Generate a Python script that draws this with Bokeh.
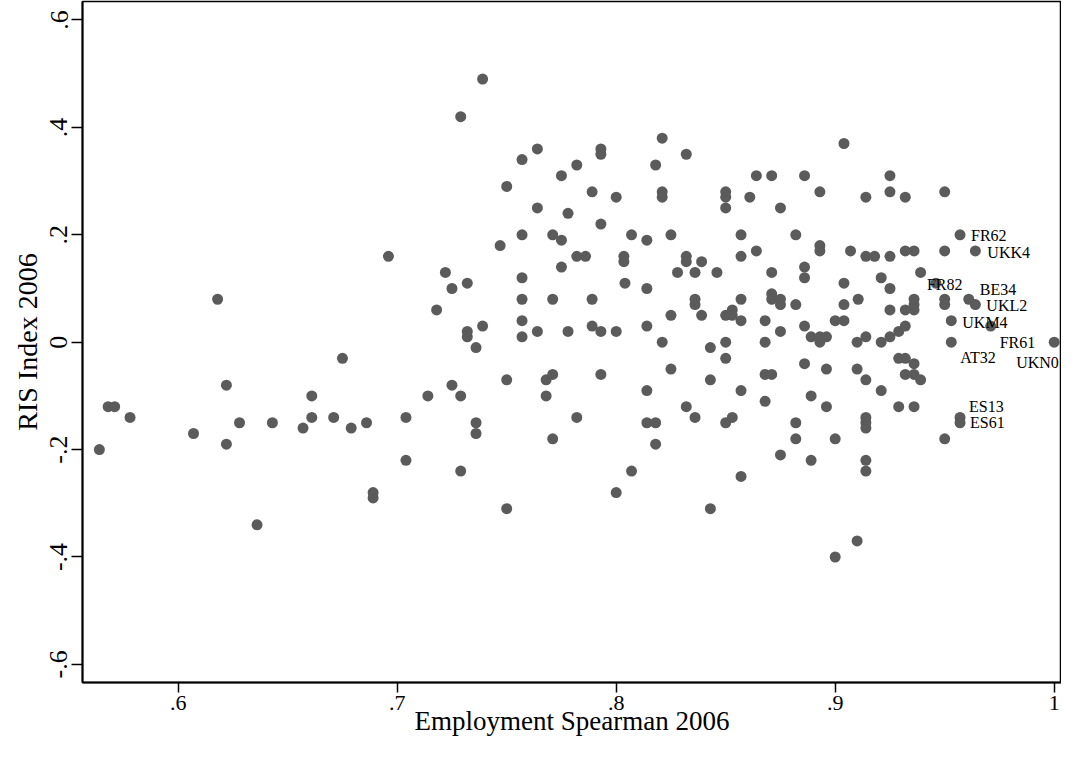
from bokeh.plotting import figure
from bokeh.models import ColumnDataSource, FixedTicker, Range1d
from bokeh.embed import file_html
from bokeh.resources import INLINE
from bokeh.core.properties import value

# ---- data ----
spearman = [
    0.564, 0.568, 0.571, 0.578, 0.607, 0.618, 0.622, 0.622, 0.628, 0.636,
    0.643, 0.657, 0.661, 0.661, 0.671, 0.675, 0.679, 0.686, 0.689, 0.689,
    0.696, 0.704, 0.704, 0.714, 0.718, 0.722, 0.725, 0.725, 0.729, 0.729,
    0.729, 0.732, 0.732, 0.732, 0.736, 0.736, 0.736, 0.739, 0.739, 0.747,
    0.750, 0.750, 0.750, 0.757, 0.757, 0.757, 0.757, 0.757, 0.757, 0.764,
    0.764, 0.764, 0.768, 0.768, 0.771, 0.771, 0.771, 0.771, 0.775, 0.775,
    0.775, 0.778, 0.778, 0.782, 0.782, 0.782, 0.786, 0.789, 0.789, 0.789,
    0.793, 0.793, 0.793, 0.793, 0.793, 0.800, 0.800, 0.800, 0.8035, 0.8035,
    0.804, 0.807, 0.807, 0.814, 0.814, 0.814, 0.814, 0.814, 0.818, 0.818,
    0.818, 0.821, 0.821, 0.821, 0.821, 0.825, 0.825, 0.825, 0.828, 0.832,
    0.832, 0.832, 0.832, 0.836, 0.836, 0.836, 0.836, 0.839, 0.839, 0.843,
    0.843, 0.843, 0.846, 0.850, 0.850, 0.850, 0.850, 0.850, 0.850, 0.850,
    0.853, 0.853, 0.853, 0.857, 0.857, 0.857, 0.857, 0.857, 0.857, 0.861,
    0.864, 0.864, 0.868, 0.868, 0.868, 0.868, 0.871, 0.871, 0.871, 0.871,
    0.871, 0.875, 0.875, 0.875, 0.875, 0.875, 0.882, 0.882, 0.882, 0.882,
    0.886, 0.886, 0.886, 0.886, 0.886, 0.889, 0.889, 0.889, 0.893, 0.893,
    0.893, 0.893, 0.893, 0.896, 0.896, 0.896, 0.900, 0.900, 0.900, 0.904,
    0.904, 0.904, 0.904, 0.907, 0.910, 0.910, 0.910, 0.9105, 0.914, 0.914,
    0.914, 0.914, 0.914, 0.914, 0.914, 0.914, 0.914, 0.918, 0.921, 0.921,
    0.921, 0.925, 0.925, 0.925, 0.925, 0.925, 0.925, 0.929, 0.929, 0.929,
    0.932, 0.932, 0.932, 0.932, 0.932, 0.932, 0.936, 0.936, 0.936, 0.936,
    0.936, 0.936, 0.936, 0.939, 0.939, 0.946, 0.950, 0.950, 0.950, 0.950,
    0.950, 0.953, 0.953, 0.957, 0.957, 0.957, 0.961, 0.964, 0.964, 0.971,
    1.000,
]
ris_index = [
    -0.20, -0.12, -0.12, -0.14, -0.17, 0.08, -0.08, -0.19, -0.15, -0.34,
    -0.15, -0.16, -0.10, -0.14, -0.14, -0.03, -0.16, -0.15, -0.28, -0.29,
    0.16, -0.14, -0.22, -0.10, 0.06, 0.13, 0.10, -0.08, 0.42, -0.10,
    -0.24, 0.11, 0.02, 0.01, -0.01, -0.15, -0.17, 0.49, 0.03, 0.18,
    0.29, -0.07, -0.31, 0.34, 0.20, 0.12, 0.08, 0.04, 0.01, 0.36,
    0.25, 0.02, -0.07, -0.10, 0.20, 0.08, -0.06, -0.18, 0.31, 0.19,
    0.14, 0.24, 0.02, 0.33, 0.16, -0.14, 0.16, 0.28, 0.08, 0.03,
    0.36, 0.35, 0.22, 0.02, -0.06, 0.27, 0.02, -0.28, 0.16, 0.15,
    0.11, 0.20, -0.24, 0.19, 0.10, 0.03, -0.09, -0.15, 0.33, -0.15,
    -0.19, 0.38, 0.28, 0.27, 0.00, 0.20, 0.05, -0.05, 0.13, 0.35,
    0.16, 0.15, -0.12, 0.13, 0.08, 0.07, -0.14, 0.15, 0.05, -0.01,
    -0.07, -0.31, 0.13, 0.28, 0.27, 0.25, 0.05, 0.00, -0.03, -0.15,
    0.06, 0.05, -0.14, 0.20, 0.16, 0.08, 0.04, -0.09, -0.25, 0.27,
    0.31, 0.17, 0.04, 0.00, -0.06, -0.11, 0.31, 0.13, 0.09, 0.08,
    -0.06, 0.25, 0.08, 0.07, 0.02, -0.21, 0.20, 0.07, -0.15, -0.18,
    0.31, 0.14, 0.12, 0.03, -0.04, 0.01, -0.10, -0.22, 0.28, 0.18,
    0.17, 0.01, 0.00, 0.01, -0.05, -0.12, 0.04, -0.18, -0.40, 0.37,
    0.11, 0.07, 0.04, 0.17, 0.00, -0.05, -0.37, 0.08, 0.27, 0.16,
    0.01, -0.07, -0.14, -0.15, -0.16, -0.22, -0.24, 0.16, 0.12, 0.00,
    -0.09, 0.31, 0.28, 0.16, 0.10, 0.06, 0.01, 0.02, -0.03, -0.12,
    0.27, 0.17, 0.06, 0.03, -0.03, -0.06, 0.17, 0.08, 0.07, 0.06,
    -0.04, -0.06, -0.12, 0.13, -0.07, 0.11, 0.28, 0.17, 0.08, 0.07,
    -0.18, 0.04, 0.00, 0.20, -0.14, -0.15, 0.08, 0.17, 0.07, 0.03,
    0.00,
]

label_names = ["FR62", "UKK4", "FR82", "BE34", "UKL2", "UKM4",
               "FR61", "AT32", "UKN0", "ES13", "ES61"]
label_spearman = [0.957, 0.964, 0.946, 0.961, 0.964, 0.953,
                  0.971, 0.953, 1.000, 0.957, 0.957]
label_ris = [0.20, 0.17, 0.11, 0.08, 0.07, 0.04,
             0.03, 0.00, 0.00, -0.14, -0.15]

x_ticks = [0.6, 0.7, 0.8, 0.9, 1.0]
x_tick_labels = [".6", ".7", ".8", ".9", "1"]
y_ticks = [-0.6, -0.4, -0.2, 0.0, 0.2, 0.4, 0.6]
y_tick_labels = ["-.6", "-.4", "-.2", "0", ".2", ".4", ".6"]

x_title = "Employment Spearman 2006"
y_title = "RIS Index 2006"

# ---- styling ----
label_dx = [11, 12, -9, 11, 11, 11, 9, 9, -38, 9, 10]
label_dy = [1, 2, 1, -10, 1, 2, 16, 15, 20, -11, 0]
FONT = "Liberation Serif"
DOT = "#5b5b5b"

p = figure(width=1061, height=743, output_backend="svg", toolbar_location=None,
           x_range=Range1d(0.556301, 1.00333), y_range=Range1d(-0.63371, 0.63445),
           min_border_left=82, min_border_right=0, min_border_top=1,
           min_border_bottom=61, background_fill_color="white",
           border_fill_color="white")

p.xgrid.grid_line_color = None
p.ygrid.grid_line_color = None
p.outline_line_color = "black"
p.outline_line_width = 1.5

p.xaxis.ticker = FixedTicker(ticks=x_ticks)
p.xaxis.major_label_overrides = {t: l for t, l in zip(x_ticks, x_tick_labels)}
p.yaxis.ticker = FixedTicker(ticks=y_ticks)
p.yaxis.major_label_overrides = {t: l for t, l in zip(y_ticks, y_tick_labels)}
p.yaxis.major_label_orientation = "vertical"

for ax in (p.xaxis[0], p.yaxis[0]):
    ax.axis_line_width = 2
    ax.axis_line_color = "black"
    ax.major_tick_line_width = 1.5
    ax.major_tick_line_color = "black"
    ax.major_tick_in = 0
    ax.minor_tick_line_color = None
    ax.major_label_text_font = FONT
    ax.major_label_text_color = "black"
    ax.axis_label_text_font = FONT
    ax.axis_label_text_font_style = "normal"
    ax.axis_label_text_color = "black"

p.xaxis.axis_label = x_title
p.xaxis.major_tick_out = 10
p.xaxis.major_label_text_font_size = "22px"
p.xaxis.major_label_standoff = 3
p.xaxis.axis_label_text_font_size = "27px"
p.xaxis.axis_label_standoff = -7

p.yaxis.axis_label = y_title
p.yaxis.major_tick_out = 11
p.yaxis.major_label_text_font_size = "26px"
p.yaxis.major_label_standoff = 4
p.yaxis.axis_label_text_font_size = "28px"
p.yaxis.axis_label_standoff = 5

src = ColumnDataSource(dict(x=spearman, y=ris_index))
p.scatter("x", "y", source=src, size=11, fill_color=DOT, line_color=None)

lsrc = ColumnDataSource(dict(x=label_spearman, y=label_ris, t=label_names,
                             dx=label_dx, dy=label_dy))
p.text("x", "y", text="t", source=lsrc, x_offset="dx", y_offset="dy",
       text_font=value(FONT), text_font_size="16px", text_color="black",
       text_align="left", text_baseline="middle")

open("out.html", "w").write(file_html(p, INLINE))
